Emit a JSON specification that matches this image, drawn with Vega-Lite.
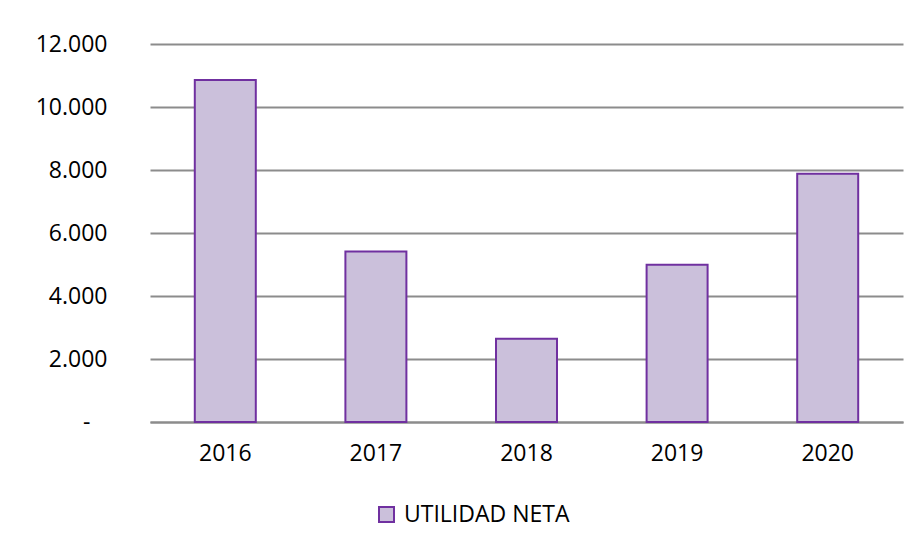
{
  "$schema": "https://vega.github.io/schema/vega-lite/v6.json",
  "autosize": "none",
  "width": 753,
  "height": 378,
  "padding": {"left": 150, "top": 44, "right": 15, "bottom": 123},
  "background": "white",
  "data": {
    "values": [
      {"year": "2016", "value": 10860, "serie": "UTILIDAD NETA"},
      {"year": "2017", "value": 5410, "serie": "UTILIDAD NETA"},
      {"year": "2018", "value": 2640, "serie": "UTILIDAD NETA"},
      {"year": "2019", "value": 4990, "serie": "UTILIDAD NETA"},
      {"year": "2020", "value": 7880, "serie": "UTILIDAD NETA"}
    ]
  },
  "mark": {"type": "bar", "size": 61, "stroke": "#7030A0", "strokeWidth": 2},
  "encoding": {
    "x": {
      "field": "year", "type": "nominal", "title": null,
      "scale": {"paddingInner": 0, "paddingOuter": 0},
      "axis": {"labelAngle": 0, "ticks": false, "labelPadding": 20, "domainColor": "#8c8c8c", "domainWidth": 2, "labelFontSize": 23, "labelFont": "Open Sans", "labelColor": "#000000"}
    },
    "y": {
      "field": "value", "type": "quantitative", "title": null,
      "scale": {"domain": [0, 12000], "nice": false},
      "axis": {"values": [0, 2000, 4000, 6000, 8000, 10000, 12000], "ticks": false, "domain": false, "labelPadding": 43, "gridColor": "#8c8c8c", "gridWidth": 2, "labelFontSize": 23, "labelFont": "Open Sans", "labelColor": "#000000",
        "labelExpr": "datum.value == 0 ? '-\u2800' : replace(format(datum.value, ',.0f'), ',', '.')"}
    },
    "color": {
      "field": "serie", "type": "nominal", "title": null,
      "scale": {"domain": ["UTILIDAD NETA"], "range": ["#CBC0DB"]},
      "legend": {"orient": "none", "legendX": 225, "legendY": 459, "symbolType": "square", "symbolSize": 225, "symbolStrokeColor": "#7030A0", "symbolStrokeWidth": 2, "labelFontSize": 23, "labelFont": "Open Sans", "labelColor": "#000000", "labelOffset": 6, "labelLimit": 0}
    }
  },
  "config": {"view": {"stroke": null}}
}
